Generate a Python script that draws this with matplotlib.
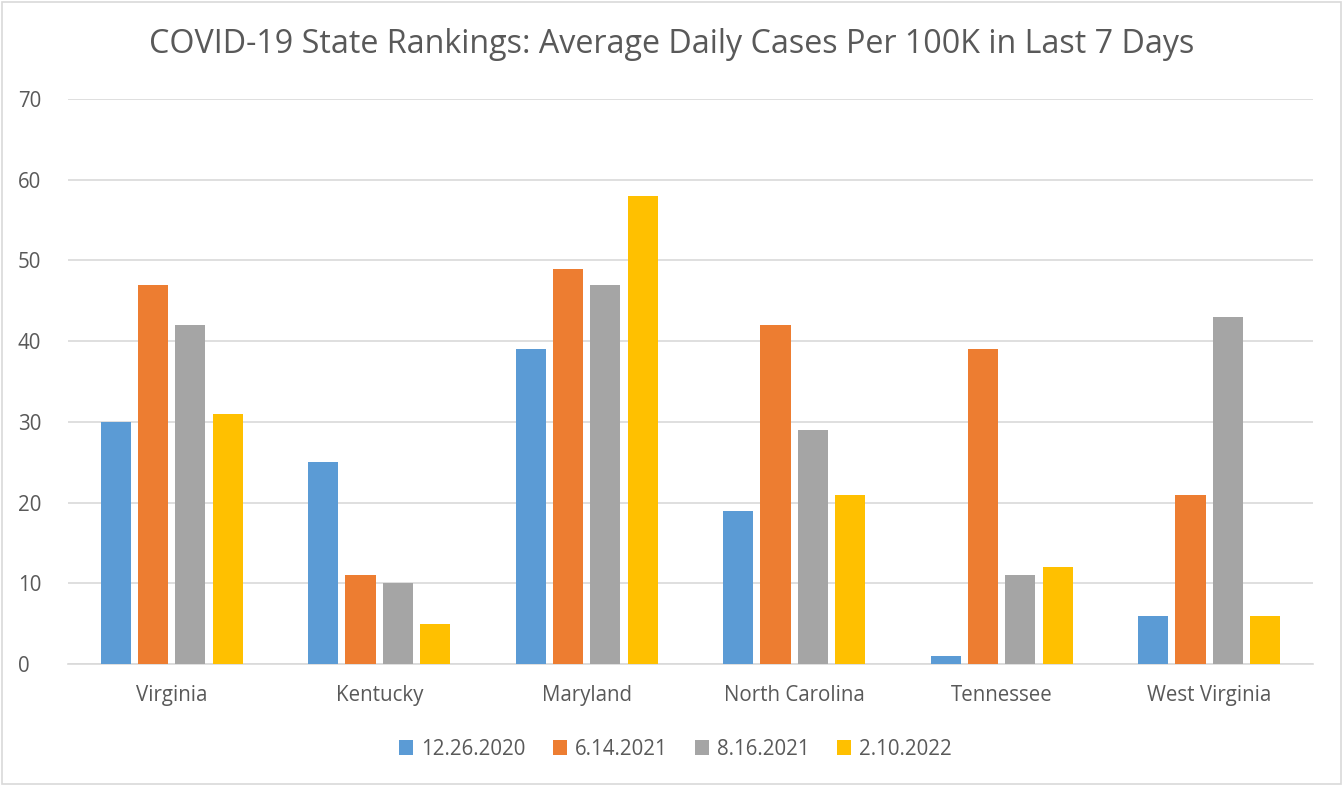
import numpy as np
import matplotlib.pyplot as plt
from matplotlib.patches import Rectangle

states = ["Virginia", "Kentucky", "Maryland", "North Carolina", "Tennessee", "West Virginia"]
dates = ["12.26.2020", "6.14.2021", "8.16.2021", "2.10.2022"]
cases_dec2020 = [30, 25, 39, 19, 1, 6]
cases_jun2021 = [47, 11, 49, 42, 39, 21]
cases_aug2021 = [42, 10, 47, 29, 11, 43]
cases_feb2022 = [31, 5, 58, 21, 12, 6]

colors = ["#5B9BD5", "#ED7D31", "#A5A5A5", "#FFC000"]
text_color = "#595959"
plt.rcParams['font.family'] = ['Open Sans', 'DejaVu Sans']

fig = plt.figure(figsize=(13.43, 7.86), dpi=100)
fig.patches.append(Rectangle((0.0015, 0.002), 0.997, 0.996, transform=fig.transFigure,
                             fill=False, edgecolor="#D9D9D9", linewidth=1.2))
ax = fig.add_axes([0.0506, 0.1552, 0.927, 0.7188])

series = [cases_dec2020, cases_jun2021, cases_aug2021, cases_feb2022]
x = np.arange(len(states))
width = 0.145
step = 0.18
for i, (vals, lab) in enumerate(zip(series, dates)):
    ax.bar(x + (i - 1.5) * step, vals, width, color=colors[i], label=lab, zorder=3)

ax.set_xlim(-0.5, len(states) - 0.5)
ax.set_ylim(0, 70)
ax.set_yticks(range(0, 71, 10))
ax.yaxis.grid(True, color="#D9D9D9", linewidth=1.2, zorder=0)
for s in ["top", "right", "left"]:
    ax.spines[s].set_visible(False)
ax.spines["bottom"].set_color("#D9D9D9")
ax.spines["bottom"].set_linewidth(1.2)
ax.set_xticks(x)
ax.set_xticklabels(states)
ax.tick_params(axis="both", length=0, labelsize=14.8, colors=text_color)
ax.tick_params(axis="x", pad=15)
ax.tick_params(axis="y", pad=36)
for t in ax.get_yticklabels():
    t.set_horizontalalignment("left")

fig.suptitle("COVID-19 State Rankings: Average Daily Cases Per 100K in Last 7 Days",
             y=0.965, fontsize=23.2, color=text_color)
fig.legend(loc="lower center", bbox_to_anchor=(0.503, 0.01), ncol=4, frameon=False,
           fontsize=14.8, labelcolor=text_color, handlelength=0.7, handleheight=0.7,
           handletextpad=0.4, columnspacing=1.3)

fig.savefig("out.png", dpi=100)
